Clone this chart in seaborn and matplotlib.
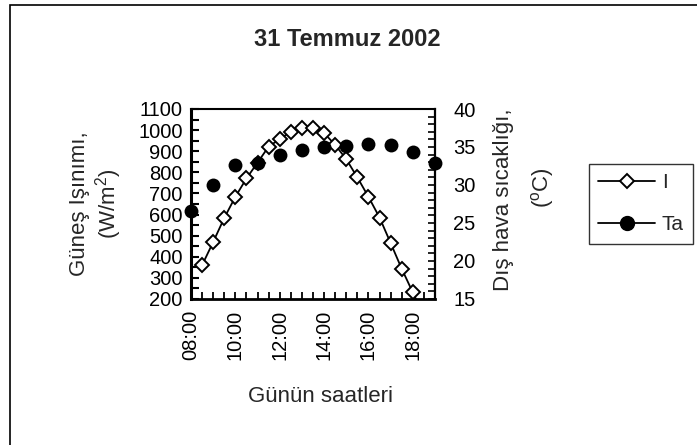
import numpy as np
import pandas as pd
import matplotlib
matplotlib.use("Agg")
import matplotlib.pyplot as plt
from matplotlib.lines import Line2D
from matplotlib.patches import Rectangle
from matplotlib.ticker import MultipleLocator
import seaborn as sns

# ---- data ----
hours_I = [8.5, 9.0, 9.5, 10.0, 10.5, 11.0, 11.5, 12.0, 12.5, 13.0, 13.5,
           14.0, 14.5, 15.0, 15.5, 16.0, 16.5, 17.0, 17.5, 18.0, 18.5]
irradiance = [360, 470, 584, 684, 771, 846, 922, 957, 993, 1010, 1010,
              986, 930, 862, 776, 684, 586, 465, 343, 231, 120]
hours_Ta = [8, 9, 10, 11, 12, 13, 14, 15, 16, 17, 18, 19]
ta_values = [26.6, 30.0, 32.6, 32.9, 33.9, 34.6, 35.0, 35.1, 35.4, 35.3, 34.4, 32.9]
xtick_pos = [8, 10, 12, 14, 16, 18]
xtick_labels = ["08:00", "10:00", "12:00", "14:00", "16:00", "18:00"]

title = "31 Temmuz 2002"

sns.set_theme(style="white")
plt.rcParams["font.family"] = ["Liberation Sans", "DejaVu Sans"]
plt.rcParams["mathtext.fontset"] = "custom"
plt.rcParams["mathtext.rm"] = "Liberation Sans"
plt.rcParams["mathtext.it"] = "Liberation Sans"

W, H = 697, 445
fig = plt.figure(figsize=(W / 100, H / 100), dpi=100)
fig.patch.set_facecolor("white")

def fx(px):
    return px / W

def fy(py):
    return 1 - py / H

L, R, T, B = 191, 435, 109, 299
ax = fig.add_axes([fx(L), fy(B), (R - L) / W, (B - T) / H])
ax.set_facecolor("white")

dfI = pd.DataFrame({"h": hours_I, "I": irradiance})
dfT = pd.DataFrame({"h": hours_Ta, "Ta": ta_values})

sns.lineplot(data=dfI, x="h", y="I", ax=ax, color="black", lw=1.3,
             marker="D", markersize=7, markerfacecolor="white",
             markeredgecolor="black", markeredgewidth=1.4, zorder=3)

ax2 = ax.twinx()
sns.scatterplot(data=dfT, x="h", y="Ta", ax=ax2, color="black", s=100,
                edgecolor="black", linewidth=0, zorder=4, clip_on=False)

ax.set_xlim(8, 19)
ax.set_ylim(200, 1100)
ax2.set_ylim(15, 40)

fs = 14.5
ax.set_xticks(xtick_pos, xtick_labels, rotation=90, fontsize=fs)
ax.xaxis.set_minor_locator(MultipleLocator(0.5))
ax.yaxis.set_major_locator(MultipleLocator(100))
ax.yaxis.set_minor_locator(MultipleLocator(50))
ax.tick_params(axis="y", which="both", direction="in", length=6, width=1.5,
               labelsize=fs, pad=6, colors="black")
ax.tick_params(axis="x", which="both", direction="in", length=5, width=1.3,
               labelsize=fs, pad=8, colors="black")
ax.tick_params(axis="both", which="both", left=True, bottom=True)

ax2.yaxis.set_major_locator(MultipleLocator(5))
ax2.yaxis.set_minor_locator(MultipleLocator(1))
ax2.tick_params(axis="y", which="both", direction="in", length=5, width=1.2,
                labelsize=fs, pad=13, right=True, colors="black")

ax.set_xlabel("")
ax.set_ylabel("")
ax2.set_xlabel("")
ax2.set_ylabel("")

for a in (ax, ax2):
    for s in a.spines.values():
        s.set_color("black")
        s.set_visible(True)
ax.spines["left"].set_linewidth(2.2)
ax.spines["bottom"].set_linewidth(2.0)
ax.spines["top"].set_linewidth(1.5)
ax2.spines["right"].set_linewidth(1.6)
ax2.spines["left"].set_visible(False)
ax2.spines["bottom"].set_visible(False)
ax2.spines["top"].set_visible(False)

lab = 16
# titles / labels
fig.text(fx(347), fy(40), title, ha="center", va="center",
         fontsize=17, fontweight="bold")
fig.text(fx(320), fy(396), "Günün saatleri", ha="center", va="center", fontsize=lab)
fig.text(fx(79), fy(204), "Güneş Işınımı,", rotation=90, ha="center", va="center", fontsize=lab)
fig.text(fx(109), fy(204), "(W/m$^{2}$)", rotation=90, ha="center", va="center", fontsize=lab)
fig.text(fx(503), fy(200), "Dış hava sıcaklığı,", rotation=90, ha="center", va="center", fontsize=lab)
fig.text(fx(543), fy(188), "($^{\\mathrm{o}}$C)", rotation=90, ha="center", va="center", fontsize=lab)

# legend
handles = [
    Line2D([], [], color="black", lw=1.3, marker="D", markersize=7,
           markerfacecolor="white", markeredgecolor="black", markeredgewidth=1.4),
    Line2D([], [], color="black", lw=1.3, marker="o", markersize=10,
           markerfacecolor="black", markeredgecolor="black"),
]
leg = fig.legend(handles, ["I", "Ta"], loc="upper left",
                 bbox_to_anchor=(fx(589), fy(164)), frameon=True, fancybox=False,
                 shadow=False, fontsize=15, handlelength=2.7, handletextpad=0.35,
                 borderpad=0.45, labelspacing=1.1, borderaxespad=0)
leg.get_frame().set_edgecolor("black")
leg.get_frame().set_linewidth(1.0)

# outer chart-area border (only left/top visible within the canvas)
fig.add_artist(Rectangle((fx(10), fy(470)), fx(700) - fx(10), fy(5) - fy(470),
                         transform=fig.transFigure, fill=False,
                         edgecolor="black", linewidth=1.2))

fig.savefig("out.png", dpi=100)
